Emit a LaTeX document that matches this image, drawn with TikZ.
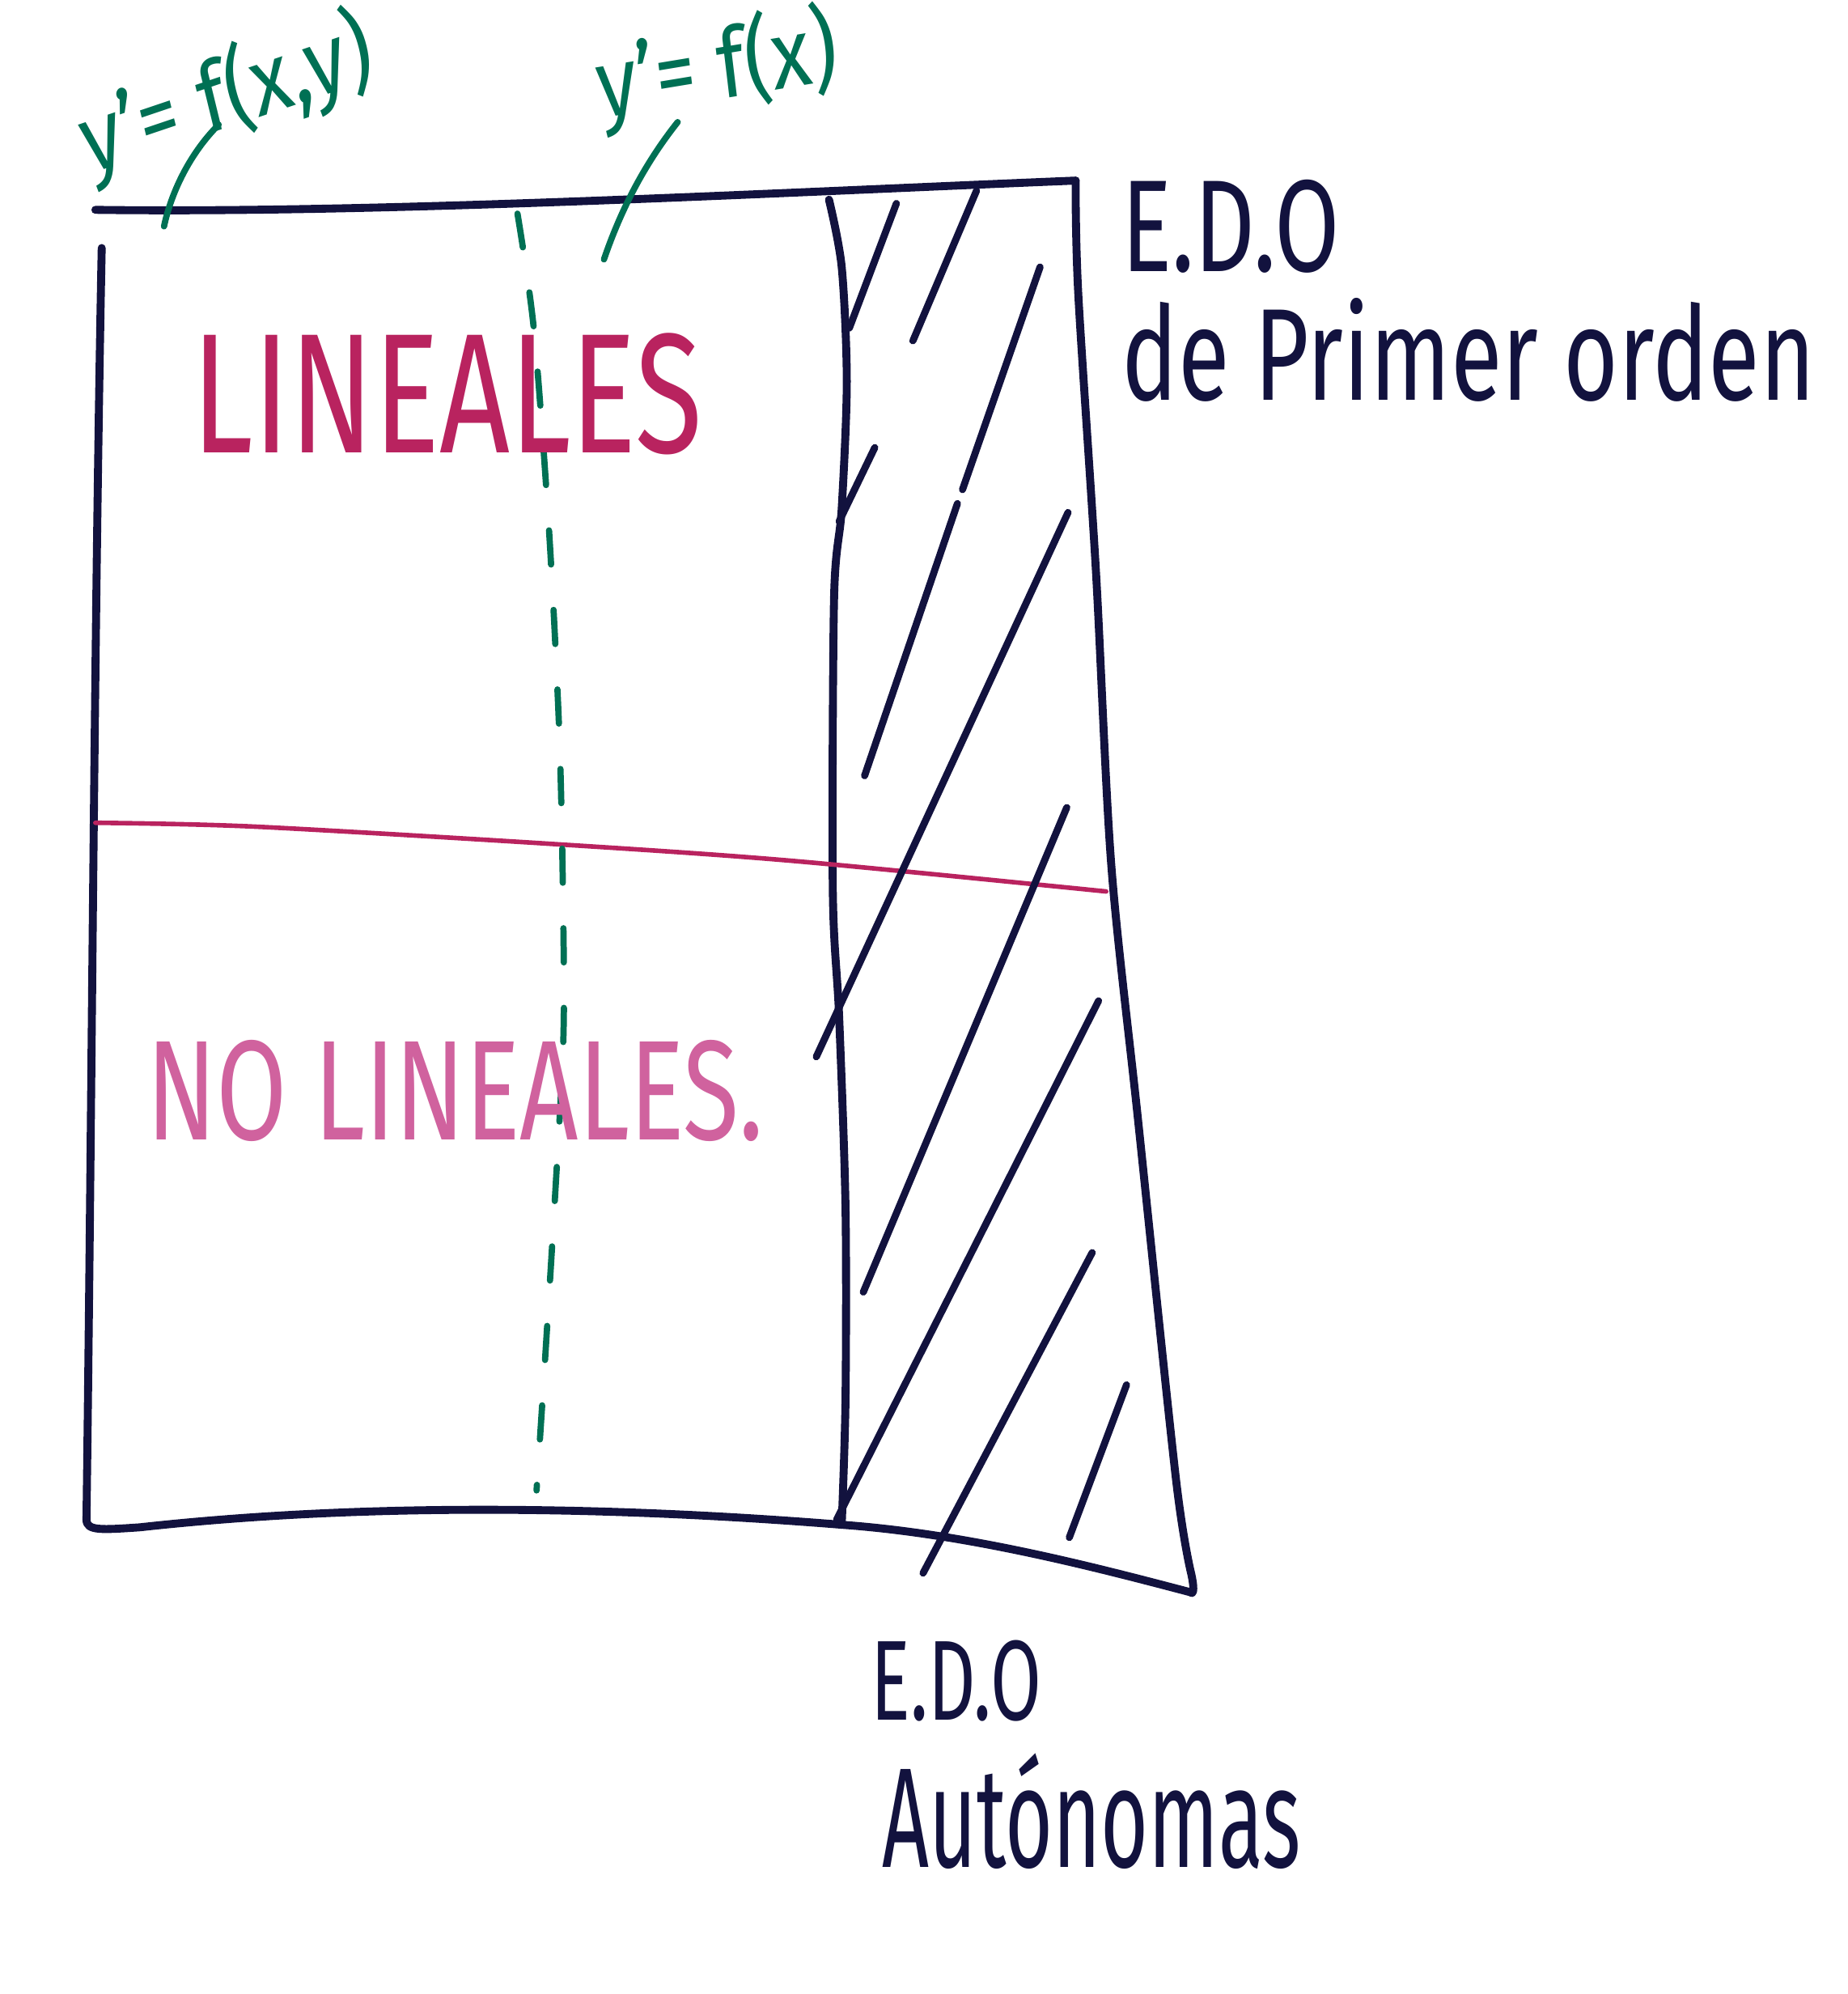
\documentclass[tikz,border=0pt]{standalone}
\usepackage{fontspec}
\setmainfont{Fira Sans}
\usetikzlibrary{positioning}

\definecolor{inkblue}{RGB}{18,18,62}
\definecolor{inkgreen}{RGB}{0,112,84}
\definecolor{inkred}{RGB}{185,35,95}
\definecolor{inkpink}{RGB}{208,98,158}

\begin{document}
\begin{tikzpicture}[
  x=0.015713cm, y=-0.015713cm,
  ink/.style={draw=inkblue, line width=2.8pt, line cap=round, line join=round},
  hatchline/.style={ink, line width=2.5pt},
  guideline/.style={draw=inkgreen, line width=2.2pt, line cap=round},
  dashguide/.style={guideline, dash pattern=on 12pt off 16pt},
  splitline/.style={draw=inkred, line width=1.6pt, line cap=round},
  scribble/.style={inner sep=0pt, xscale=0.72},
  formula/.style={inner sep=0pt, text=inkgreen, xscale=0.85, font=\fontsize{34}{34}\selectfont}
]
\useasboundingbox (0,0) rectangle (1453,1568);

% corners of the sketch
\coordinate (tl) at (75,165);
\coordinate (tr) at (846,142);
\coordinate (lt) at (80,195);
\coordinate (bl) at (68,1195);
\coordinate (bm) at (662,1199);
\coordinate (br) at (936,1252);

% outer frame
\draw[ink] (tl) .. controls (300,168) and (600,152) .. (tr);
\draw[ink] (lt) .. controls (74,500) and (72,900) .. (bl)
  .. controls (68,1204) and (80,1203) .. (110,1201)
  .. controls (300,1180) and (500,1186) .. (bm)
  .. controls (760,1206) and (860,1232) .. (br);
\draw[ink] plot[smooth] coordinates {(846,142) (848,230) (862,450) (874,680) (895,880) (925,1164) (937,1238)}
  .. controls (940,1252) and (938,1254) .. (br);

% divider of the autonomous strip
\draw[ink] plot[smooth] coordinates {(652,157) (662,210) (666,300) (662,400) (656,470) (655,700) (660,800) (665,950) (665,1100) (bm)};

% red split between the two classes
\draw[splitline] plot[smooth] coordinates {(75,647) (200,650) (440,664) (624,677) (870,701)};

% green dashed split
\draw[dashguide] plot[smooth] coordinates {(407,168) (420,260) (432,420) (440,580) (443,720) (443,820) (436,950) (428,1080) (422,1172)};

% hatching of the strip
\foreach \ax/\ay/\bx/\by in {668/258/705/160, 718/268/768/150, 680/610/753/396, 757/385/818/210,
  660/410/688/352, 642/831/840/403, 679/1016/839/635, 658/1195/864/787, 726/1237/859/985, 841/1209/886/1089}
  \draw[hatchline] (\ax,\ay) -- (\bx,\by);

% labels
\node[formula, rotate=16] (fxy) at (178,76) {y'= f(x,y)};
\node[formula, rotate=8] (fx) at (564,54) {y'= f(x)};
\draw[guideline] (172,98) .. controls (150,120) and (135,150) .. (129,178);
\draw[guideline] (533,96) .. controls (510,125) and (490,160) .. (475,204);

\node[scribble, text=inkred, font=\fontsize{60}{60}\selectfont] (lin) at (352,310) {LINEALES};
\node[scribble, text=inkpink, font=\fontsize{50}{50}\selectfont] (nolin) at (358,858) {NO LINEALES.};

\node[scribble, text=inkblue, font=\fontsize{46}{46}\selectfont] (edo) at (968,178) {E.D.O};
\node[scribble, text=inkblue, font=\fontsize{46}{46}\selectfont, below=0.3cm of edo.south west, anchor=north west] (orden) {de Primer orden};

\node[scribble, text=inkblue, xscale=0.9, font=\fontsize{40}{40}\selectfont] (edoaut) at (752,1322) {E.D.O};
\node[scribble, text=inkblue, xscale=0.8, font=\fontsize{50}{50}\selectfont, below=0.38cm of edoaut.south west, anchor=north west, xshift=0.24cm] (auton) {Autónomas};
\end{tikzpicture}
\end{document}
